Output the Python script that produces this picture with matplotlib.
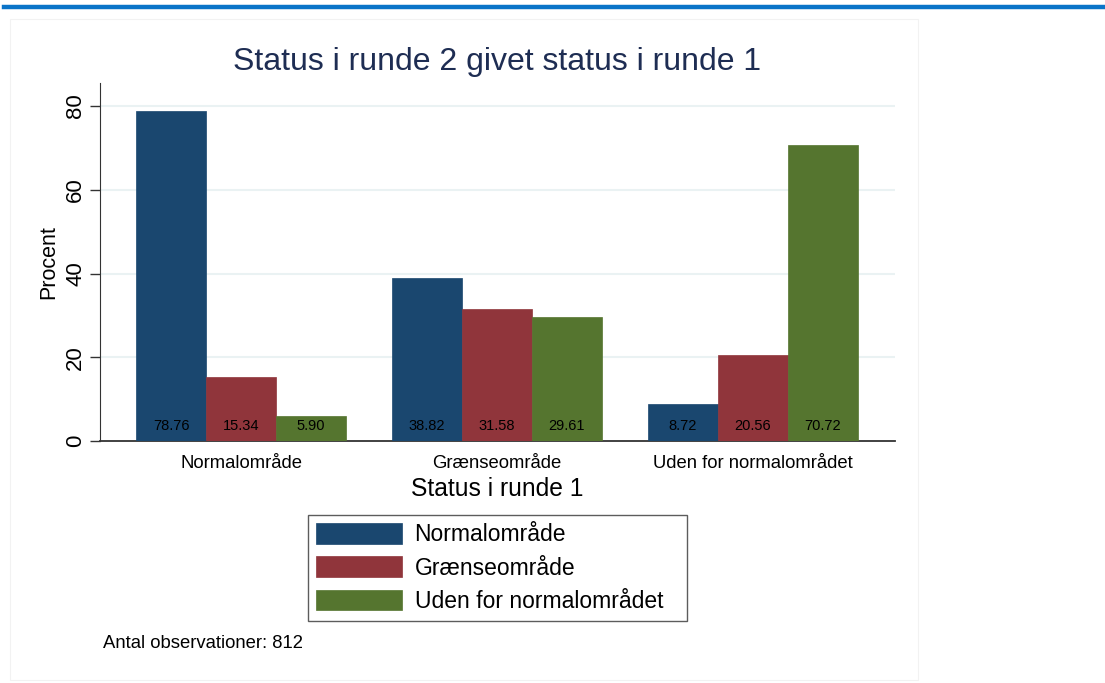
import matplotlib
matplotlib.use("Agg")
import matplotlib.pyplot as plt
import numpy as np
from matplotlib.lines import Line2D
from matplotlib.patches import Rectangle

plt.rcParams['font.family'] = ['Liberation Sans', 'DejaVu Sans']

categories = ["Normalområde", "Grænseområde", "Uden for normalområdet"]
series_names = ["Normalområde", "Grænseområde", "Uden for normalområdet"]
values = {
    "Normalområde": [78.76, 38.82, 8.72],
    "Grænseområde": [15.34, 31.58, 20.56],
    "Uden for normalområdet": [5.90, 29.61, 70.72],
}
colors = ["#1a476f", "#90353b", "#55752f"]
yticks = [0, 20, 40, 60, 80]

fig = plt.figure(figsize=(11.05, 6.83), dpi=100)
fig.patch.set_facecolor("white")

# top blue rule and faint panel border
fig.add_artist(Line2D([4/1105, 1.0], [1-6.5/683, 1-6.5/683], color="#0a74c8", lw=3.2, transform=fig.transFigure))
fig.add_artist(Rectangle((10/1105, 1-680/683), (918-10)/1105, (680-19)/683, transform=fig.transFigure,
                         fill=False, ec="#f2f2f2", lw=0.8))

ax = fig.add_axes([100/1105, 1-441/683, (895-100)/1105, (441-83)/683])
x = np.arange(len(categories))
w = 70/256
for i, name in enumerate(series_names):
    vals = values[name]
    pos = x + (i-1)*w
    ax.bar(pos, vals, width=w, color=colors[i], edgecolor=colors[i], lw=0.5, label=name, zorder=3)
    for p, v in zip(pos, vals):
        ax.text(p, 3.6, f"{v:.2f}", ha="center", va="center", fontsize=10.5, color="black", zorder=4)

ax.set_xlim(-0.551, 2.555)
ax.set_ylim(0, 85.5)
ax.set_yticks(yticks)
ax.set_yticklabels([str(t) for t in yticks], rotation=90, va="center", fontsize=16)
ax.set_xticks(x)
ax.set_xticklabels(categories, fontsize=13.3)
ax.tick_params(axis="x", length=0, pad=10)
ax.tick_params(axis="y", length=7, width=1, color="#333333", pad=3)
for t in yticks[1:]:
    ax.axhline(t, color="#eaf2f3", lw=1.5, zorder=1)
for s in ["top", "right"]:
    ax.spines[s].set_visible(False)
ax.spines["left"].set_color("#333333")
ax.spines["bottom"].set_color("#333333")
ax.spines["bottom"].set_linewidth(1.3)
ax.set_ylabel("Procent", fontsize=15.5, labelpad=4)
ax.set_xlabel("Status i runde 1", fontsize=17.7, labelpad=4)

fig.text(497/1105, 1-62/683, "Status i runde 2 givet status i runde 1", ha="center", va="center",
         fontsize=23, color="#1e2d53")

leg = fig.legend(loc="center", bbox_to_anchor=(308/1105, 1-621/683, 379/1105, 106/683), mode="expand",
                 ncol=1, fontsize=16.5,
                 frameon=True, fancybox=False, edgecolor="#333333", handlelength=3.75, handleheight=1.0,
                 borderpad=0.35, labelspacing=0.45, handletextpad=0.55, borderaxespad=0)
leg.get_frame().set_linewidth(1.0)

fig.text(103/1105, 1-643/683, "Antal observationer: 812", ha="left", va="center", fontsize=13.3)

fig.savefig("out.png", dpi=100)
